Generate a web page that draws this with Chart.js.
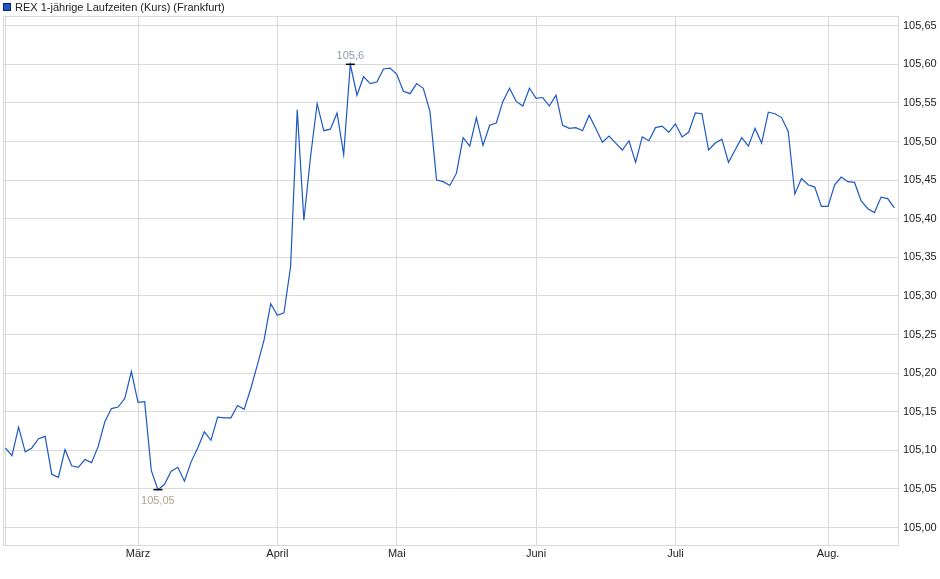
<!DOCTYPE html>
<html><head><meta charset="utf-8">
<script src="https://cdn.jsdelivr.net/npm/chart.js@4"></script>
<style>html,body{margin:0;padding:0;background:#fff;}#wrap{width:940px;height:579px;}</style>
</head><body><div id="wrap"><canvas id="c" width="940" height="579"></canvas></div>
<script>
const seriesName = 'REX 1-jährige Laufzeiten (Kurs) (Frankfurt)';
const values = [
105.103,105.093,105.130,105.098,105.103,105.115,105.118,105.069,105.065,105.101,
105.080,105.078,105.088,105.084,105.105,105.137,105.154,105.156,105.167,105.202,
105.162,105.163,105.074,105.049,105.056,105.073,105.078,105.060,105.085,105.103,
105.124,105.113,105.143,105.142,105.142,105.158,105.153,105.180,105.211,105.243,
105.290,105.275,105.278,105.338,105.541,105.398,105.480,105.549,105.514,105.516,
105.537,105.483,105.600,105.560,105.584,105.575,105.577,105.594,105.595,105.587,
105.565,105.562,105.575,105.569,105.539,105.450,105.448,105.443,105.459,105.505,
105.494,105.531,105.495,105.521,105.524,105.552,105.569,105.552,105.546,105.569,
105.556,105.557,105.546,105.560,105.521,105.517,105.518,105.514,105.534,105.517,
105.499,105.507,105.498,105.489,105.501,105.473,105.506,105.501,105.518,105.520,
105.512,105.523,105.506,105.512,105.537,105.536,105.489,105.498,105.503,105.473,
105.489,105.505,105.494,105.517,105.498,105.538,105.536,105.531,105.513,105.432,
105.452,105.444,105.441,105.416,105.416,105.444,105.454,105.448,105.447,105.423,
105.413,105.408,105.428,105.426,105.414
];
const monthTickIndex = [0, 20, 41, 59, 80, 101, 124];
const monthTickLabels = ['', 'März', 'April', 'Mai', 'Juni', 'Juli', 'Aug.'];
const yTickValues = [105.00,105.05,105.10,105.15,105.20,105.25,105.30,105.35,105.40,105.45,105.50,105.55,105.60,105.65];

const FONT = '"Liberation Sans", Arial, sans-serif';
const LINE = '#1d58c4';
const GRID = '#d9d9d9';

function fmt(v, trim) {
  let s = v.toFixed(2);
  if (trim) s = s.replace(/0+$/, '').replace(/\.$/, '');
  return s.replace('.', ',');
}

const overlay = {
  id: 'overlay',
  afterDraw(chart) {
    const ctx = chart.ctx, a = chart.chartArea;
    ctx.save();
    // top & left border
    ctx.strokeStyle = GRID; ctx.lineWidth = 1;
    ctx.beginPath();
    ctx.moveTo(a.left + 0.5, a.bottom); ctx.lineTo(a.left + 0.5, a.top + 0.5); ctx.lineTo(a.right, a.top + 0.5);
    ctx.stroke();
    // legend
    ctx.fillStyle = LINE; ctx.fillRect(3, 3, 8, 8);
    ctx.strokeStyle = '#0b2866'; ctx.strokeRect(3.5, 3.5, 7, 7);
    ctx.fillStyle = '#222'; ctx.font = '11px ' + FONT; ctx.textBaseline = 'alphabetic'; ctx.textAlign = 'left';
    ctx.fillText(seriesName, 15, 11);
    // min / max annotations
    const xs = chart.scales.x, ys = chart.scales.y;
    let iMax = 0, iMin = 0;
    values.forEach((v, i) => { if (v > values[iMax]) iMax = i; if (v < values[iMin]) iMin = i; });
    const marks = [
      {i: iMax, dy: -5, color: '#8e9aae'},
      {i: iMin, dy: 14, color: '#b0a48f'}
    ];
    ctx.font = '11px ' + FONT; ctx.textAlign = 'center';
    marks.forEach(m => {
      const px = xs.getPixelForValue(m.i), py = ys.getPixelForValue(values[m.i]);
      const txt = fmt(values[m.i], true);
      const w = ctx.measureText(txt).width;
      ctx.fillStyle = '#fff';
      ctx.fillRect(px - w / 2 - 2, py + m.dy - 10, w + 4, 13);
      ctx.fillStyle = m.color;
      ctx.fillText(txt, px, py + m.dy);
      ctx.strokeStyle = '#000'; ctx.lineWidth = 1.5;
      ctx.beginPath(); ctx.moveTo(px - 4.5, py); ctx.lineTo(px + 4.5, py); ctx.stroke();
    });
    ctx.restore();
  }
};

new Chart(document.getElementById('c'), {
  type: 'line',
  data: {
    datasets: [{
      label: seriesName,
      data: values.map((v, i) => ({x: i, y: v})),
      borderColor: LINE,
      backgroundColor: LINE,
      borderWidth: 1.2,
      pointRadius: 0,
      tension: 0,
      fill: false
    }]
  },
  options: {
    responsive: false,
    animation: false,
    devicePixelRatio: 1,
    layout: {padding: {left: 3, top: 16, right: 0, bottom: 0}},
    plugins: {legend: {display: false}, tooltip: {enabled: false}},
    scales: {
      x: {
        type: 'linear', min: -0.35, max: 134.55, bounds: 'data',
        afterBuildTicks: ax => { ax.ticks = monthTickIndex.map(v => ({value: v})); },
        afterFit: ax => { ax.height = 34; },
        ticks: {
          autoSkip: false, maxRotation: 0, padding: 2,
          color: '#222', font: {family: FONT, size: 11},
          callback: (v, idx) => monthTickLabels[idx]
        },
        grid: {color: GRID, drawTicks: false},
        border: {color: GRID}
      },
      y: {
        type: 'linear', position: 'right', min: 104.9773, max: 105.6626, bounds: 'data',
        afterBuildTicks: ax => { ax.ticks = yTickValues.map(v => ({value: v})); },
        afterFit: ax => { ax.width = 42; },
        ticks: {
          padding: 5, color: '#222', font: {family: FONT, size: 11},
          callback: v => fmt(v, false)
        },
        grid: {color: GRID, drawTicks: false},
        border: {color: GRID}
      }
    }
  },
  plugins: [overlay]
});
</script>
</body></html>
